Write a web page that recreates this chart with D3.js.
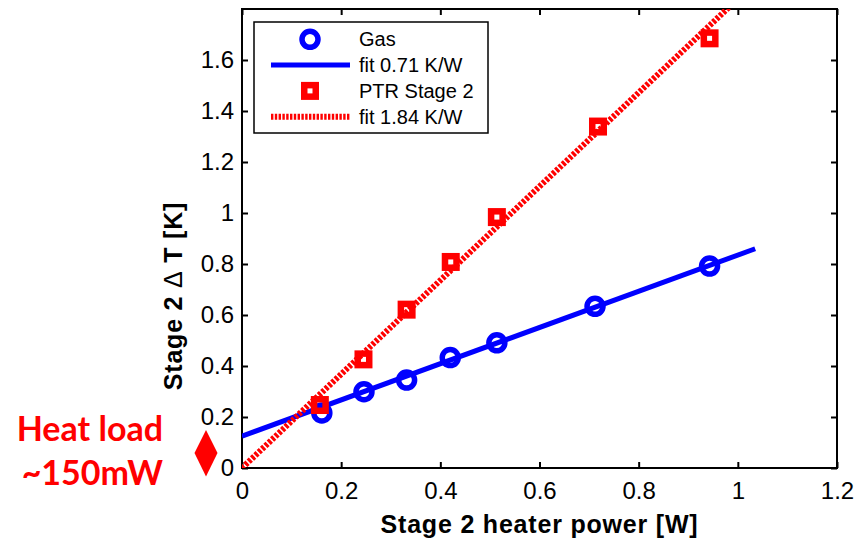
<!DOCTYPE html>
<html>
<head>
<meta charset="utf-8">
<script src="https://cdn.jsdelivr.net/npm/d3@7/dist/d3.min.js"></script>
<style>
  html, body { margin: 0; padding: 0; background: #fff; }
  svg { display: block; }
  .tick text { font-family: "Liberation Sans", Arial, sans-serif; }
</style>
</head>
<body>
<svg id="chart" width="868" height="541"></svg>
<script>
// Stage 2 heater power [W] and measured temperature rise [K]
const powerGas = [0.161, 0.246, 0.332, 0.420, 0.514, 0.712, 0.943];
const dTGas    = [0.216, 0.299, 0.345, 0.433, 0.491, 0.634, 0.792];
const powerPtr = [0.157, 0.245, 0.332, 0.421, 0.514, 0.718, 0.943];
const dTPtr    = [0.247, 0.426, 0.621, 0.808, 0.984, 1.339, 1.685];

// Linear fits: slope [K/W], intercept [K], x extent [W]
const fitGas = { slope: 0.71, intercept: 0.125, xMax: 1.035 };
const fitPtr = { slope: 1.84, intercept: 0.0,   xMax: 1.0 };

const xTicks = [0, 0.2, 0.4, 0.6, 0.8, 1, 1.2];
const yTicks = [0, 0.2, 0.4, 0.6, 0.8, 1, 1.2, 1.4, 1.6];

const legendLabels = ["Gas", "fit 0.71 K/W", "PTR Stage 2", "fit 1.84 K/W"];

const BLUE = "#0000ff", RED = "#ff0000";
const FONT = "'Liberation Sans', Arial, sans-serif";

const svg = d3.select("#chart");
const L = 242, R = 837, T = 9, B = 468;

const x = d3.scaleLinear().domain([0, 1.2]).range([L, R]);
const y = d3.scaleLinear().domain([0, 1.8]).range([B, T]);

const fmt = d => (d === 0 || d === 1) ? String(d) : d3.format(".1f")(d);

// Axes with inward ticks on all four sides
const gx = svg.append("g").attr("transform", `translate(0,${B})`)
  .call(d3.axisBottom(x).tickValues(xTicks).tickFormat(fmt).tickSizeInner(-6).tickSizeOuter(0).tickPadding(14));
const gy = svg.append("g").attr("transform", `translate(${L},0)`)
  .call(d3.axisLeft(y).tickValues(yTicks).tickFormat(fmt).tickSizeInner(-6).tickSizeOuter(0).tickPadding(8));
const gxt = svg.append("g").attr("transform", `translate(0,${T})`)
  .call(d3.axisTop(x).tickValues(xTicks).tickFormat("").tickSizeInner(-6).tickSizeOuter(0));
const gyr = svg.append("g").attr("transform", `translate(${R},0)`)
  .call(d3.axisRight(y).tickValues(yTicks).tickFormat("").tickSizeInner(-6).tickSizeOuter(0));

[gx, gy, gxt, gyr].forEach(g => {
  g.select(".domain").remove();
  g.selectAll(".tick line").attr("stroke", "#000").attr("stroke-width", 2);
  g.selectAll(".tick text").attr("fill", "#000").style("font-size", "24px");
});

// Plot frame
svg.append("rect").attr("x", L).attr("y", T).attr("width", R - L).attr("height", B - T)
  .attr("fill", "none").attr("stroke", "#000").attr("stroke-width", 2);

// Axis titles
svg.append("text").attr("x", (L + R) / 2).attr("y", 533)
  .attr("text-anchor", "middle").attr("font-family", FONT).attr("font-weight", "bold")
  .attr("font-size", 25).attr("letter-spacing", 0.8).text("Stage 2 heater power [W]");
const yTitle = svg.append("text").attr("transform", "translate(182,296) rotate(-90)")
  .attr("text-anchor", "middle").attr("font-family", FONT).attr("font-weight", "bold")
  .attr("font-size", 25).attr("letter-spacing", 0.8);
yTitle.append("tspan").text("Stage 2 ");
yTitle.append("tspan").attr("font-weight", "normal").text("\u0394");
yTitle.append("tspan").text(" T [K]");

// Clip data to the axes box
svg.append("clipPath").attr("id", "plotClip")
  .append("rect").attr("x", L).attr("y", T).attr("width", R - L).attr("height", B - T);
const plot = svg.append("g").attr("clip-path", "url(#plotClip)");

const line = d3.line().x(d => x(d[0])).y(d => y(d[1]));
const fitPoints = f => [[0, f.intercept], [f.xMax, f.intercept + f.slope * f.xMax]];

plot.append("path").datum(fitPoints(fitGas)).attr("d", line)
  .attr("fill", "none").attr("stroke", BLUE).attr("stroke-width", 5);
plot.append("path").datum(fitPoints(fitPtr)).attr("d", line)
  .attr("fill", "none").attr("stroke", RED).attr("stroke-width", 6)
  .attr("stroke-dasharray", "3 1.6");

const gasData = powerGas.map((p, i) => [p, dTGas[i]]);
const ptrData = powerPtr.map((p, i) => [p, dTPtr[i]]);

plot.selectAll("circle.gas").data(gasData).join("circle").attr("class", "gas")
  .attr("cx", d => x(d[0])).attr("cy", d => y(d[1])).attr("r", 8)
  .attr("fill", "none").attr("stroke", BLUE).attr("stroke-width", 5.5);

const SQ = 11.5;
plot.selectAll("rect.ptr").data(ptrData).join("rect").attr("class", "ptr")
  .attr("x", d => x(d[0]) - SQ / 2).attr("y", d => y(d[1]) - SQ / 2)
  .attr("width", SQ).attr("height", SQ)
  .attr("fill", "none").attr("stroke", RED).attr("stroke-width", 6.5);

// Legend
const lg = svg.append("g");
lg.append("rect").attr("x", 254).attr("y", 22).attr("width", 234).attr("height", 111)
  .attr("fill", "#fff").attr("stroke", "#000").attr("stroke-width", 1.5);
const rowY = i => 39.3 + i * 25.8;
lg.append("circle").attr("cx", 310).attr("cy", rowY(0)).attr("r", 8)
  .attr("fill", "none").attr("stroke", BLUE).attr("stroke-width", 5.5);
lg.append("line").attr("x1", 271).attr("x2", 350).attr("y1", rowY(1)).attr("y2", rowY(1))
  .attr("stroke", BLUE).attr("stroke-width", 5);
lg.append("rect").attr("x", 310 - SQ / 2).attr("y", rowY(2) - SQ / 2).attr("width", SQ).attr("height", SQ)
  .attr("fill", "none").attr("stroke", RED).attr("stroke-width", 6.5);
lg.append("line").attr("x1", 271).attr("x2", 350).attr("y1", rowY(3)).attr("y2", rowY(3))
  .attr("stroke", RED).attr("stroke-width", 6).attr("stroke-dasharray", "2.4 1.4");
legendLabels.forEach((t, i) => {
  lg.append("text").attr("x", 359).attr("y", rowY(i)).attr("dy", "0.35em")
    .attr("font-family", FONT).attr("font-size", 20).attr("fill", "#000").text(t);
});

// Heat load annotation
const ann = svg.append("g");
ann.append("text").attr("x", 163).attr("y", 441).attr("text-anchor", "end")
  .attr("font-family", "Lato, 'Open Sans', sans-serif").attr("font-weight", "bold")
  .attr("font-size", 34).attr("fill", RED).text("Heat load");
ann.append("text").attr("x", 163).attr("y", 485).attr("text-anchor", "end")
  .attr("font-family", "Lato, 'Open Sans', sans-serif").attr("font-weight", "bold")
  .attr("font-size", 34).attr("fill", RED).text("~150mW");
ann.append("path").attr("d", "M206,430 L217.5,453 L206,476.5 L194.5,453 Z").attr("fill", RED);
</script>
</body>
</html>
